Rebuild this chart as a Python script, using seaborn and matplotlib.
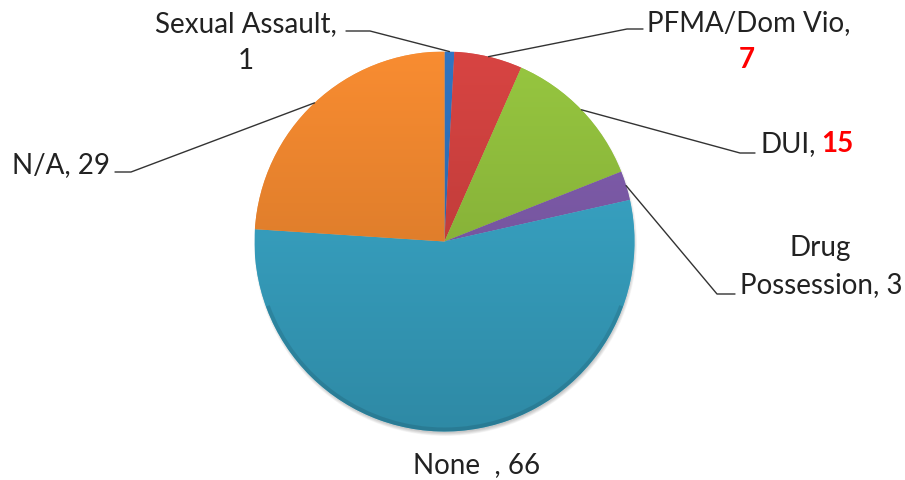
import numpy as np
import matplotlib
matplotlib.use("Agg")
import matplotlib.pyplot as plt
import matplotlib.patches as mpatches
import seaborn as sns
from matplotlib.colors import to_rgb

# Offense categories and counts
categories = ["Sexual Assault", "PFMA/Dom Vio", "DUI", "Drug Possession", "None", "N/A"]
counts = [1, 7, 15, 3, 66, 29]
base_colors = ["#2C6CB5", "#C93E3C", "#8CB93A", "#7A58A5", "#36A0C0", "#E8822C"]

sns.set_theme(style="white")
plt.rcParams["font.family"] = ["Lato", "DejaVu Sans"]

W, H = 905, 481
fig = plt.figure(figsize=(W / 100, H / 100), dpi=100)
ax = fig.add_axes([0, 0, 1, 1])

cx, cy, r = 444.5, H - 242.5, 190.0

# soft drop shadow beneath the pie
for i in range(10):
    ax.add_patch(plt.Circle((cx + 1, cy - 3), r + 1.5 - i * 0.6, color="black",
                            alpha=0.035, lw=0, zorder=0.5))

wedges, _ = ax.pie(counts, colors=base_colors, startangle=90, counterclock=False,
                   center=(cx, cy), radius=r, frame=True,
                   wedgeprops=dict(linewidth=0.6, edgecolor=(1, 1, 1, 0.3)))
ax.set_xlim(0, W)
ax.set_ylim(0, H)
ax.set_aspect("equal")
ax.axis("off")

# vertical light-to-dark shading clipped to each wedge
grad = np.linspace(0, 1, 256)[:, None]
for w, c in zip(wedges, base_colors):
    rgb = np.array(to_rgb(c))
    top = np.clip(rgb * 1.06 + 0.01, 0, 1)
    bot = rgb * 0.86
    img = top[None, None, :] * (1 - grad[..., None]) + bot[None, None, :] * grad[..., None]
    img = np.repeat(img, 2, axis=1)
    im = ax.imshow(img, extent=(cx - r, cx + r, cy - r, cy + r), origin="upper",
                   zorder=w.get_zorder() + 0.1, aspect="auto", interpolation="bilinear")
    im.set_clip_path(w)

# darker rim along the lower edge
ax.add_patch(mpatches.Wedge((cx, cy), r, 200, 340, width=4, color="black",
                            alpha=0.10, lw=0, zorder=3))
ax.set_xlim(0, W)
ax.set_ylim(0, H)


def edge_point(i):
    w = wedges[i]
    mid = np.deg2rad((w.theta1 + w.theta2) / 2)
    return cx + r * np.cos(mid), cy + r * np.sin(mid)


def py(y):
    return H - y


line_kw = dict(color="#333333", lw=1.0, zorder=5)
fs = 20
txt = "#222222"

# Sexual Assault
ex, ey = edge_point(0)
ax.plot([346, 370, ex], [py(32), py(32), ey], **line_kw)
ax.text(246, py(24), "Sexual Assault,", ha="center", va="center", fontsize=fs, color=txt)
ax.text(246, py(61), f"{counts[0]}", ha="center", va="center", fontsize=fs, color=txt)

# PFMA / Dom Vio
ex, ey = edge_point(1)
ax.plot([643, 627, ex], [py(30), py(30), ey], **line_kw)
ax.text(749, py(23), "PFMA/Dom Vio,", ha="center", va="center", fontsize=fs, color=txt)
ax.text(747, py(60), f"{counts[1]}", ha="center", va="center", fontsize=fs,
        color="#FF0000", fontweight="bold")

# DUI
ex, ey = edge_point(2)
ax.plot([755, 740, ex], [py(154), py(154), ey], **line_kw)
ax.text(760, py(144), "DUI,", ha="left", va="center", fontsize=fs, color=txt)
ax.text(821, py(144), f"{counts[2]}", ha="left", va="center", fontsize=fs,
        color="#FF0000", fontweight="bold")

# Drug Possession
ex, ey = edge_point(3)
ax.plot([735, 717, ex], [py(295), py(295), ey], **line_kw)
ax.text(820, py(248), "Drug", ha="center", va="center", fontsize=fs, color=txt)
ax.text(821, py(285), f"Possession, {counts[3]}", ha="center", va="center", fontsize=fs,
        color=txt)

# None
ax.text(477, py(465), f"None  , {counts[4]}", ha="center", va="center", fontsize=fs,
        color=txt)

# N/A
ex, ey = edge_point(5)
ax.plot([115, 131, ex], [py(173), py(173), ey], **line_kw)
ax.text(61, py(165), f"N/A, {counts[5]}", ha="center", va="center", fontsize=fs,
        color=txt)

fig.savefig("out.png", dpi=100)
